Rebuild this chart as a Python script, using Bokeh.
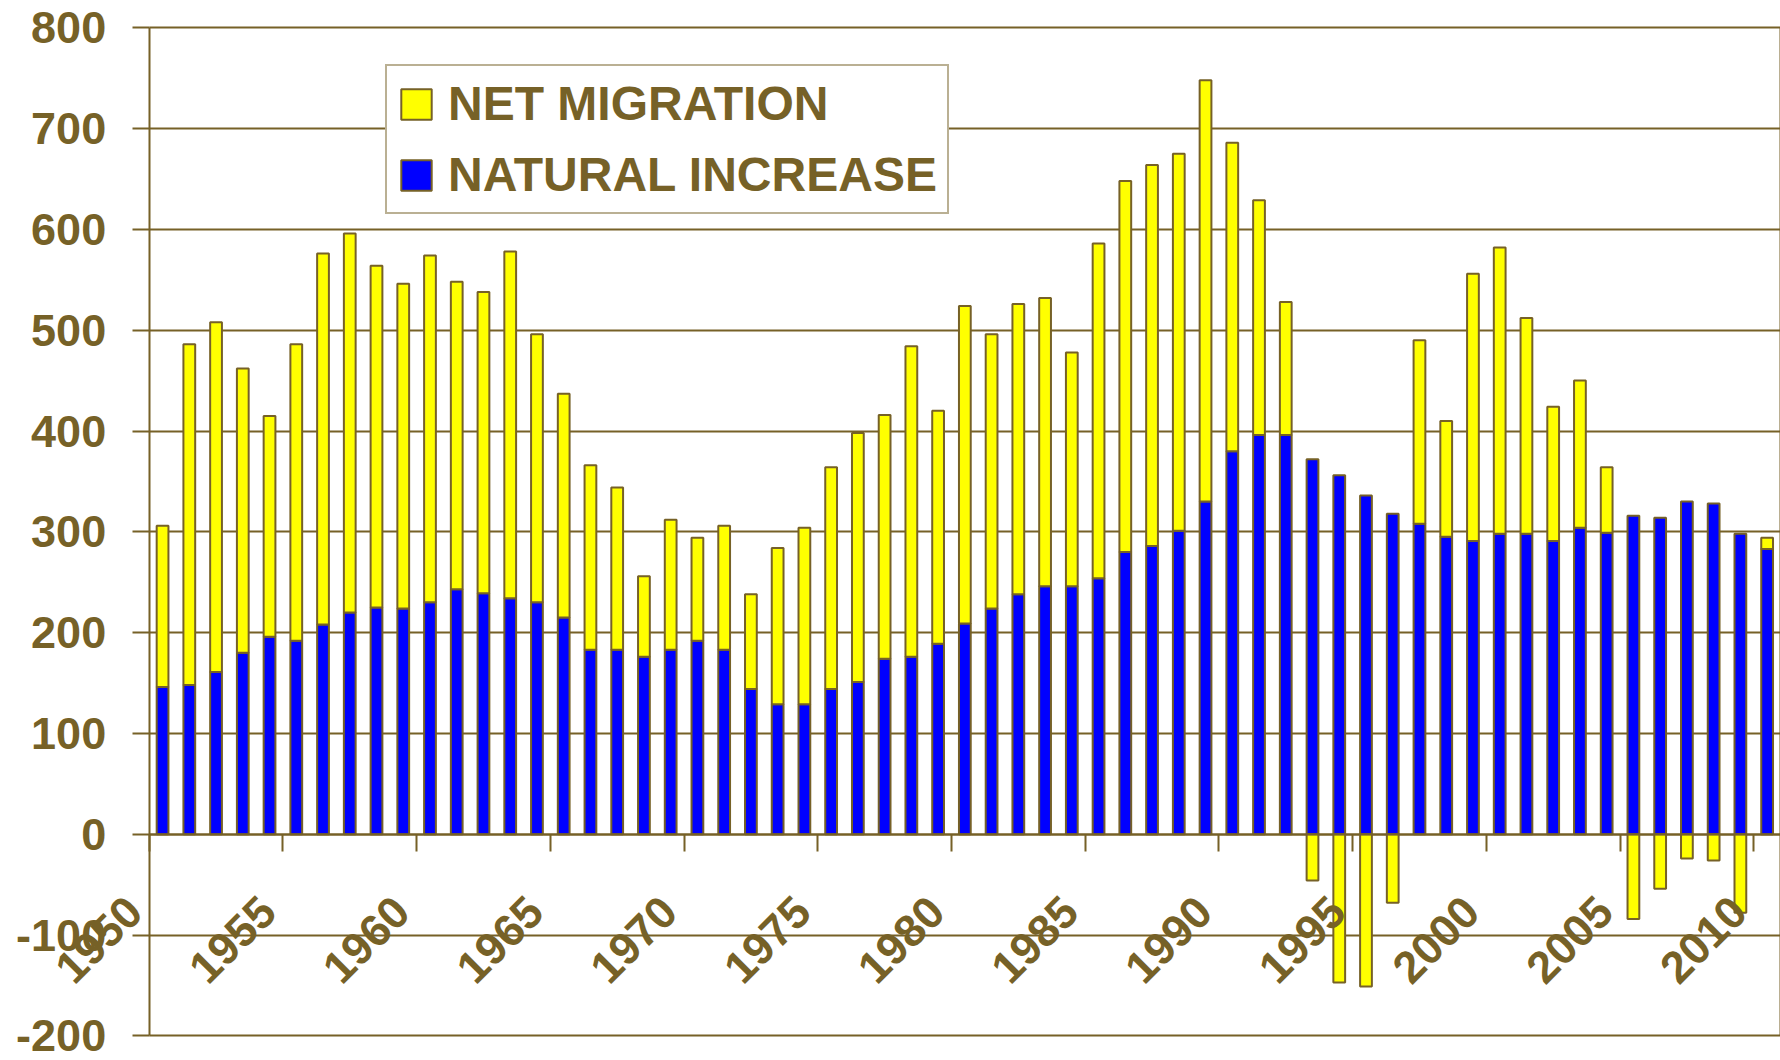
import pandas as pd
from math import pi
from bokeh.plotting import figure
from bokeh.models import (ColumnDataSource, FixedTicker, Legend, LegendItem, Range1d,
                          LabelSet, BoxAnnotation)
from bokeh.core.properties import value
from bokeh.transform import dodge
from bokeh.embed import file_html
from bokeh.resources import INLINE

# ---------------- data ----------------
years = list(range(1950, 2011))
natural_increase = [146, 148, 161, 180, 196, 192, 208, 220, 225, 224,
                    230, 243, 239, 234, 230, 215, 183, 183, 176, 183,
                    192, 183, 144, 129, 129, 144, 151, 174, 176, 189,
                    209, 224, 238, 246, 246, 254, 280, 286, 301, 330,
                    380, 396, 396, 372, 356, 336, 318, 308, 295, 291,
                    298, 298, 291, 304, 299, 316, 314, 330, 328, 298,
                    283]
net_migration = [160, 338, 347, 282, 219, 294, 368, 376, 339, 322,
                 344, 305, 299, 344, 266, 222, 183, 161, 80, 129,
                 102, 123, 94, 155, 175, 220, 247, 242, 308, 231,
                 315, 272, 288, 286, 232, 332, 368, 378, 374, 418,
                 306, 233, 132, -46, -147, -151, -68, 182, 115, 265,
                 284, 214, 133, 146, 65, -84, -54, -24, -26, -78,
                 11]
series_names = ["NET MIGRATION", "NATURAL INCREASE"]
y_ticks = [-200, -100, 0, 100, 200, 300, 400, 500, 600, 700, 800]
y_tick_labels = ["-200", "-100", "0", "100", "200", "300", "400", "500", "600", "700", "800"]
x_ticks = [1950, 1955, 1960, 1965, 1970, 1975, 1980, 1985, 1990, 1995, 2000, 2005, 2010]
x_tick_labels = ["1950", "1955", "1960", "1965", "1970", "1975", "1980", "1985", "1990",
                 "1995", "2000", "2005", "2010"]

# ---------------- styles ----------------
OLIVE = "#766127"
YELLOW = "#FFFF00"
BLUE = "#0000FF"
FONT = "Liberation Sans"
X_START, X_END = 1950, 2011      # plotted span of years
Y_MIN, Y_MAX = -200, 800         # plotted span of values

df = pd.DataFrame({"year": years, "nat": natural_increase, "mig": net_migration})
df["mig_bottom"] = df["nat"].where(df["mig"] > 0, 0)
df["mig_top"] = (df["nat"] + df["mig"]).where(df["mig"] > 0, df["mig"])
src = ColumnDataSource(df)

# the frame covers the whole canvas; axes are fixed at year 1950 and value 0
p = figure(width=1780, height=1060,
           x_range=Range1d(1944.44, 2011.0), y_range=Range1d(-224.5, 827.1),
           output_backend="svg", toolbar_location=None,
           min_border_left=0, min_border_top=0, min_border_bottom=0, min_border_right=0)
p.background_fill_color = "white"
p.border_fill_color = "white"
p.outline_line_color = None

# grid lines only across the plotted years
grid = p.ygrid[0]
grid.ticker = FixedTicker(ticks=y_ticks)
grid.grid_line_color = OLIVE
grid.grid_line_width = 2
if "cross_bounds" in grid.properties():
    grid.cross_bounds = (X_START, X_END)
else:
    p.add_layout(BoxAnnotation(right=X_START, fill_color="white", fill_alpha=1,
                               line_color=None, level="underlay"))
p.xgrid.visible = False

# right-hand border of the plot area
p.segment(x0=[X_END], y0=[Y_MIN], x1=[X_END], y1=[Y_MAX], line_color=OLIVE, line_width=2)

r_nat = p.vbar(x=dodge("year", 0.5), top="nat", bottom=0, width=0.44, source=src,
               fill_color=BLUE, line_color=OLIVE, line_width=2)
r_mig = p.vbar(x=dodge("year", 0.5), top="mig_top", bottom="mig_bottom", width=0.44, source=src,
               fill_color=YELLOW, line_color=OLIVE, line_width=2)

# y axis
yax = p.yaxis[0]
yax.fixed_location = X_START
yax.bounds = (Y_MIN, Y_MAX)
yax.ticker = FixedTicker(ticks=y_ticks)
yax.major_label_overrides = {t: l for t, l in zip(y_ticks, y_tick_labels)}
yax.major_label_text_font = FONT
yax.major_label_text_font_style = "bold"
yax.major_label_text_font_size = "45px"
yax.major_label_text_color = OLIVE
yax.axis_line_color = OLIVE
yax.axis_line_width = 2
yax.major_tick_line_color = OLIVE
yax.major_tick_line_width = 2
yax.major_tick_out = 17
yax.major_tick_in = 0
yax.minor_tick_line_color = None
yax.major_label_standoff = 26

# x axis crossing at zero; its tick labels are drawn as rotated labels
xax = p.xaxis[0]
xax.fixed_location = 0
xax.bounds = (X_START, X_END)
xax.ticker = FixedTicker(ticks=x_ticks)
xax.major_label_text_color = None
xax.axis_line_color = OLIVE
xax.axis_line_width = 2
xax.major_tick_line_color = OLIVE
xax.major_tick_line_width = 2
xax.major_tick_out = 17
xax.major_tick_in = 0
xax.minor_tick_line_color = None

lab_src = ColumnDataSource(dict(x=x_ticks, y=[0] * len(x_ticks), text=x_tick_labels))
xlabels = LabelSet(x="x", y="y", text="text", source=lab_src,
                   x_offset=-15, y_offset=-70, angle=pi / 4,
                   text_align="right", text_baseline="middle",
                   text_font=value(FONT), text_font_style="bold", text_font_size="45px",
                   text_color=OLIVE)
p.add_layout(xlabels)

legend = Legend(items=[LegendItem(label=series_names[0], renderers=[r_mig]),
                       LegendItem(label=series_names[1], renderers=[r_nat])],
                location=(385, 846))
legend.label_text_font = FONT
legend.label_text_font_style = "bold"
legend.label_text_font_size = "48px"
legend.label_text_color = OLIVE
legend.border_line_color = OLIVE
legend.border_line_width = 2
legend.background_fill_color = "white"
legend.background_fill_alpha = 1
legend.glyph_width = 38
legend.glyph_height = 38
legend.label_standoff = 13
legend.padding = 10
legend.spacing = 16
legend.margin = 0
p.add_layout(legend)

open("out.html", "w").write(file_html(p, INLINE))
